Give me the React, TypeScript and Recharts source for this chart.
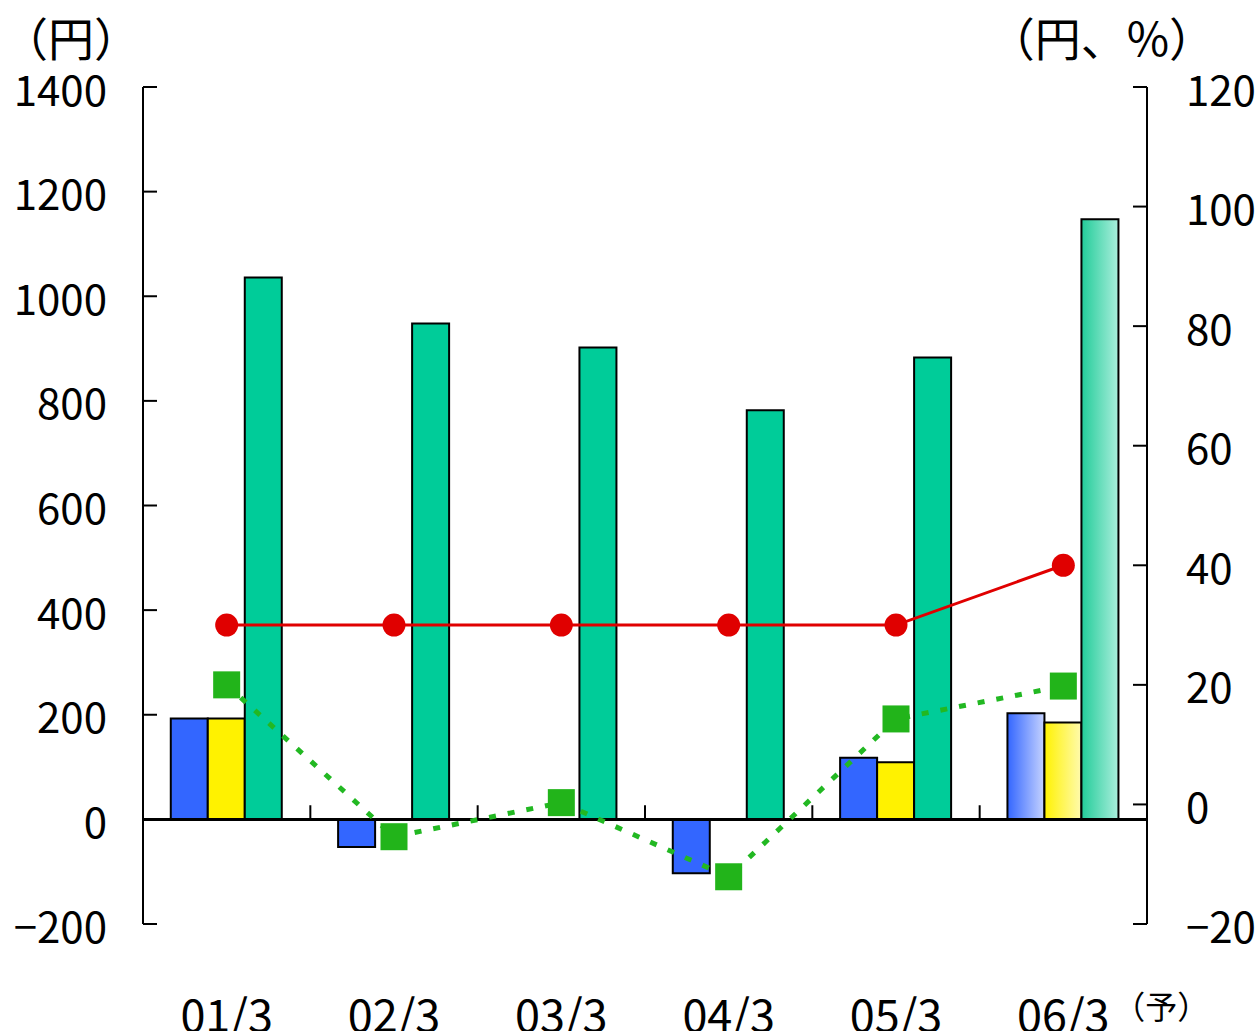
import { ComposedChart, Bar, Line, XAxis, YAxis, ReferenceLine, Cell } from 'recharts'

const categories = ['01/3', '02/3', '03/3', '04/3', '05/3', '06/3']
const epsValues = [193, -53, null, -103, 118, 203]
const dilutedEpsValues = [193, null, null, null, 109, 185]
const bpsValues = [1036, 948, 902, 782, 883, 1147]
const dividendValues = [30, 30, 30, 30, 30, 40]
const roeValues = [20.0, -5.4, 0.3, -12.1, 14.3, 19.8]

const leftTicks = [-200, 0, 200, 400, 600, 800, 1000, 1200, 1400]
const rightTicks = [-20, 0, 20, 40, 60, 80, 100, 120]
const forecastIndex = 5

const data = categories.map((name, i) => ({
  name,
  eps: epsValues[i],
  diluted: dilutedEpsValues[i],
  bps: bpsValues[i],
  dividend: dividendValues[i],
  roe: roeValues[i],
}))

const FONT = '"Noto Sans CJK JP", "Noto Sans", sans-serif'
const fmt = (v: number) => (v < 0 ? '\u2212' + Math.abs(v) : String(v))

const LeftTick = ({ x, y, payload }: any) => (
  <g>
    <line x1={x} x2={x + 14} y1={y} y2={y} stroke="#000" strokeWidth={2} />
    <text x={x - 36} y={y} textAnchor="end" dominantBaseline="central" fontSize={42} fontFamily={FONT} fill="#000">
      {fmt(payload.value)}
    </text>
  </g>
)

const RightTick = ({ x, y, payload }: any) => (
  <g>
    <line x1={x - 14} x2={x} y1={y} y2={y} stroke="#000" strokeWidth={2} />
    <text x={x + 39} y={y} textAnchor="start" dominantBaseline="central" fontSize={42} fontFamily={FONT} fill="#000">
      {fmt(payload.value)}
    </text>
  </g>
)

const CatTick = ({ x, y, payload, index }: any) => (
  <g>
    <text x={x} y={y + 88} textAnchor="middle" dominantBaseline="central" fontSize={45} fontFamily={FONT} fill="#000">
      {payload.value}
    </text>
    {index === forecastIndex && (
      <text x={x + 50} y={y + 81} textAnchor="start" dominantBaseline="central" fontSize={32} fontFamily={FONT} fill="#000">
        （予）
      </text>
    )}
  </g>
)

const RoeDot = ({ cx, cy }: any) =>
  cx == null || cy == null ? null : <rect x={cx - 13.5} y={cy - 13.5} width={27} height={27} fill="#22b41a" />

export default function App() {
  return (
    <div style={{ position: 'absolute', left: 0, top: 0, width: 1257, height: 1031, background: '#fff', fontFamily: FONT }}>
      <div style={{ position: 'absolute', left: 2, top: 15, fontSize: 46, lineHeight: '42px' }}>（円）</div>
      <div style={{ position: 'absolute', right: 42, top: 15, fontSize: 46, lineHeight: '42px' }}>（円、%）</div>
      <ComposedChart
        width={1257}
        height={1031}
        data={data}
        margin={{ top: 87, right: 0, bottom: 0, left: 0 }}
        barCategoryGap="16.6%"
        barGap={0}
      >
        <defs>
          <linearGradient id="gBlue" x1="0" y1="0" x2="1" y2="0">
            <stop offset="0%" stopColor="#3366ff" />
            <stop offset="100%" stopColor="#c6d3ff" />
          </linearGradient>
          <linearGradient id="gYellow" x1="0" y1="0" x2="1" y2="0">
            <stop offset="0%" stopColor="#fff200" />
            <stop offset="100%" stopColor="#fffaae" />
          </linearGradient>
          <linearGradient id="gGreen" x1="0" y1="0" x2="1" y2="0">
            <stop offset="0%" stopColor="#22cc99" />
            <stop offset="100%" stopColor="#aaeedc" />
          </linearGradient>
        </defs>
        <XAxis
          dataKey="name"
          height={107}
          axisLine={false}
          tickLine={false}
          tickSize={0}
          tickMargin={0}
          interval={0}
          tick={<CatTick />}
        />
        <YAxis
          yAxisId="left"
          width={143}
          domain={[-200, 1400]}
          ticks={leftTicks}
          interval={0}
          tickLine={false}
          tickSize={0}
          tickMargin={0}
          axisLine={{ stroke: '#000', strokeWidth: 2 }}
          tick={<LeftTick />}
        />
        <YAxis
          yAxisId="right"
          orientation="right"
          width={110}
          domain={[-20, 120]}
          ticks={rightTicks}
          interval={0}
          tickLine={false}
          tickSize={0}
          tickMargin={0}
          axisLine={{ stroke: '#000', strokeWidth: 2 }}
          tick={<RightTick />}
        />
        <Bar yAxisId="left" dataKey="eps" fill="#3366ff" stroke="#000" strokeWidth={2} isAnimationActive={false}>
          {data.map((d, i) => (
            <Cell key={d.name} fill={i === forecastIndex ? 'url(#gBlue)' : '#3366ff'} />
          ))}
        </Bar>
        <Bar yAxisId="left" dataKey="diluted" fill="#fff200" stroke="#000" strokeWidth={2} isAnimationActive={false}>
          {data.map((d, i) => (
            <Cell key={d.name} fill={i === forecastIndex ? 'url(#gYellow)' : '#fff200'} />
          ))}
        </Bar>
        <Bar yAxisId="left" dataKey="bps" fill="#00cc99" stroke="#000" strokeWidth={2} isAnimationActive={false}>
          {data.map((d, i) => (
            <Cell key={d.name} fill={i === forecastIndex ? 'url(#gGreen)' : '#00cc99'} />
          ))}
        </Bar>
        <ReferenceLine yAxisId="left" y={0} stroke="#000" strokeWidth={3} />
        {categories.slice(1).map((c) => (
          <ReferenceLine
            key={c}
            yAxisId="left"
            position="start"
            segment={[{ x: c, y: 0 }, { x: c, y: 27 }]}
            stroke="#000"
            strokeWidth={2}
          />
        ))}
        <Line
          yAxisId="right"
          dataKey="roe"
          stroke="#22b822"
          strokeWidth={5}
          strokeDasharray="7 12"
          dot={<RoeDot />}
          activeDot={false}
          isAnimationActive={false}
        />
        <Line
          yAxisId="right"
          dataKey="dividend"
          stroke="#e00000"
          strokeWidth={3}
          dot={{ r: 11.5, fill: '#e00000', stroke: '#e00000', strokeWidth: 0 }}
          activeDot={false}
          isAnimationActive={false}
        />
      </ComposedChart>
    </div>
  )
}
